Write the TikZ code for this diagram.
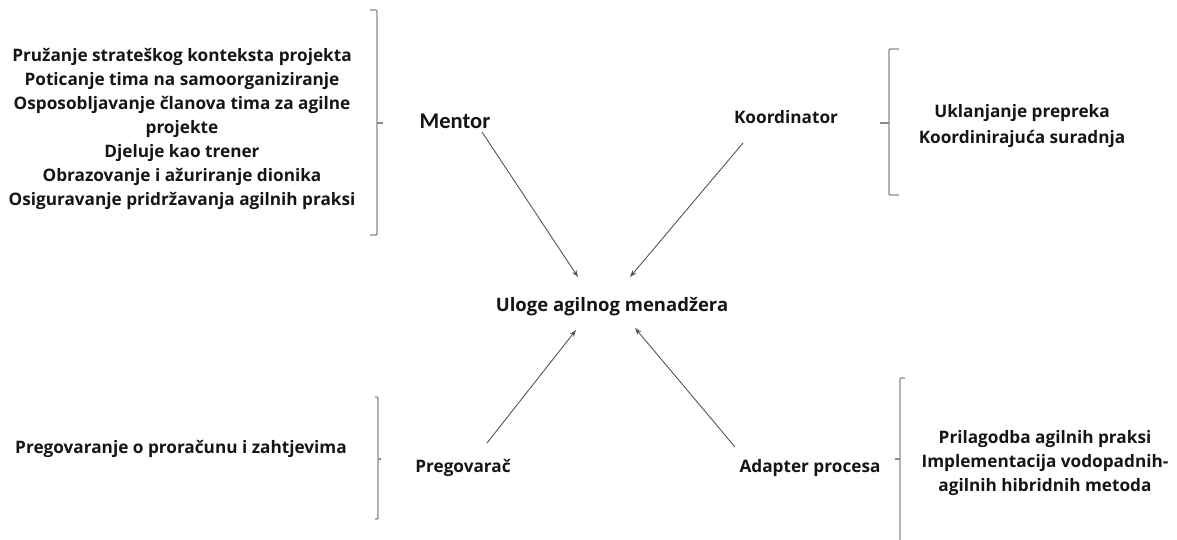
\documentclass[tikz,border=0pt]{standalone}
\usepackage{fontspec}
\setmainfont{Open Sans}
\newfontfamily\calibri{Carlito}
\usetikzlibrary{arrows.meta}
\definecolor{txt}{HTML}{151515}
\definecolor{brk}{HTML}{8A8A8A}
\definecolor{arrc}{HTML}{555555}
\tikzset{
  lbl/.style={inner sep=0pt, text=txt, font=\fontsize{17.2}{24}\selectfont\bfseries, align=center},
  bracket/.style={draw=brk, line width=1.4pt, rounded corners=1pt},
  arr/.style={draw=arrc, line width=0.9pt, -{Stealth[length=7pt,width=5pt]}}
}
\begin{document}
\begin{tikzpicture}[x=1pt,y=-1pt]
\useasboundingbox (0,0) rectangle (1177,539);
% nodes
\node[lbl] (mentortxt) at (182,129) {Pružanje strateškog konteksta projekta\\Poticanje tima na samoorganiziranje\\Osposobljavanje članova tima za agilne\\projekte\\Djeluje kao trener\\Obrazovanje i ažuriranje dionika\\Osiguravanje pridržavanja agilnih praksi};
\node[lbl, font=\calibri\fontsize{22.5}{24}\selectfont\bfseries] (mentor) at (455,121) {Mentor};
\node[lbl] (koord) at (786,117) {Koordinator};
\node[lbl, font=\fontsize{17.2}{26}\selectfont\bfseries] (koordtxt) at (1022,126) {Uklanjanje prepreka\\Koordinirajuća suradnja};
\node[lbl, font=\fontsize{18.5}{24}\selectfont\bfseries] (center) at (612,307) {Uloge agilnog menadžera};
\node[lbl] (pregtxt) at (181,449) {Pregovaranje o proračunu i zahtjevima};
\node[lbl] (preg) at (463,468) {Pregovarač};
\node[lbl] (adapt) at (810,468) {Adapter procesa};
\node[lbl] (adapttxt) at (1045,463) {Prilagodba agilnih praksi\\Implementacija vodopadnih-\\agilnih hibridnih metoda};
% brackets
\draw[bracket] (370,10) -- (377,10) -- (377,235) -- (370,235);
\draw[bracket] (377,123) -- (383,123);
\draw[bracket] (899,49) -- (889,49) -- (889,195) -- (899,195);
\draw[bracket] (889,123) -- (880,123);
\draw[bracket] (375,397) -- (378,397) -- (378,519) -- (375,519);
\draw[bracket] (378,459) -- (381,459);
\draw[bracket] (905,378) -- (900,378) -- (900,545);
\draw[bracket] (900,459) -- (895,459);
% arrow end points
\coordinate (m1) at (482,132);
\coordinate (m2) at (578,277);
\coordinate (k1) at (743,143);
\coordinate (k2) at (630,277);
\coordinate (p1) at (487,443);
\coordinate (p2) at (576,330);
\coordinate (a1) at (735,447);
\coordinate (a2) at (635,328);
\draw[arr] (m1) -- (m2);
\draw[arr] (k1) -- (k2);
\draw[arr] (p1) -- (p2);
\draw[arr] (a1) -- (a2);
\end{tikzpicture}
\end{document}
